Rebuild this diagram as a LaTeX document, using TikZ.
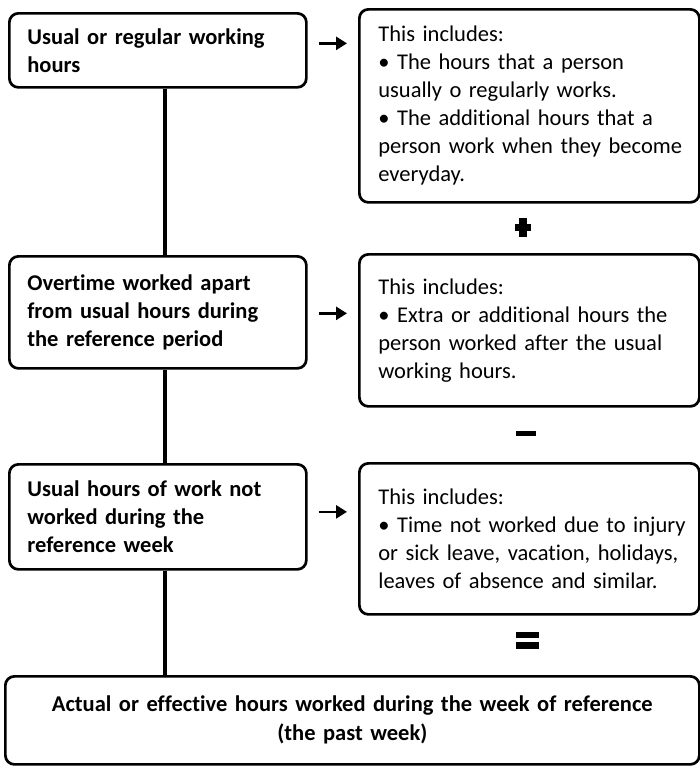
\documentclass[tikz,border=0pt]{standalone}
\usepackage{fontspec}
\setmainfont{Carlito}[WordSpace=0.72, RawFeature=-liga]
\usetikzlibrary{arrows.meta}
\newcommand\oneline[1]{\mbox{#1}}
\begin{document}
\begin{tikzpicture}[x=1pt,y=-1pt,
  box/.style={draw, line width=2.7pt, rounded corners=9pt, fill=white, anchor=north west,
    align=left, inner ysep=4pt, font=\fontsize{22.5}{28}\selectfont},
  leftbox/.style={box, font=\fontsize{22.5}{28}\selectfont\bfseries, text width=261pt, inner xsep=18pt, minimum width=297pt},
  rightbox/.style={box, text width=302pt, inner xsep=19pt, minimum width=340pt},
  bottombox/.style={box, font=\fontsize{22.5}{29}\selectfont\bfseries, align=center, text width=650pt, inner xsep=22pt, minimum width=694pt},
  arr/.style={line width=2.6pt, -{Triangle[length=11pt,width=13pt]}},
  spine/.style={line width=3.6pt}]
\useasboundingbox (0,0) rectangle (700,766);
\coordinate (sx) at (165,0);
% left boxes
\node[leftbox, minimum height=74pt] (L1) at (8,12) {Usual or regular working\\hours};
\node[leftbox, minimum height=112pt] (L2) at (8,255) {Overtime worked apart\\from usual hours during\\the reference period};
\node[leftbox, minimum height=105pt] (L3) at (8,463) {Usual hours of work not\\worked during the\\reference week};
% right boxes
\node[rightbox, minimum height=193pt] (R1) at (358,8) {\oneline{This includes:}\\\oneline{\textbullet{} The hours that a person}\\\oneline{usually o regularly works.}\\\oneline{\textbullet{} The additional hours that a}\\\oneline{person work when they become}\\\oneline{everyday.}};
\node[rightbox, minimum height=152pt] (R2) at (358,253) {\oneline{This includes:}\\\oneline{\textbullet{} Extra or additional hours the}\\\oneline{person worked after the usual}\\\oneline{working hours.}\\[10pt]};
\node[rightbox, minimum height=151pt] (R3) at (358,462) {\oneline{This includes:}\\\oneline{\textbullet{} Time not worked due to injury}\\\oneline{or sick leave, vacation, holidays,}\\\oneline{leaves of absence and similar.}\\[8pt]};
% bottom box
\node[bottombox, minimum height=88pt] (B) at (4,675) {Actual or effective hours worked during the week of reference\\(the past week)};
% spine
\draw[spine] (L1.south -| sx) -- (L2.north -| sx);
\draw[spine] (L2.south -| sx) -- (L3.north -| sx);
\draw[spine] (L3.south -| sx) -- (B.north -| sx);
% arrows
\draw[arr] ([xshift=11pt,yshift=7pt]L1.east) -- ([xshift=-11pt,yshift=7pt]L1.east -| R1.west);
\draw[arr] ([xshift=11pt,yshift=-1pt]L2.east) -- ([xshift=-11pt,yshift=-1pt]L2.east -| R2.west);
\draw[arr] ([xshift=11pt,yshift=5pt]L3.east) -- ([xshift=-11pt,yshift=5pt]L3.east -| R3.west);
% operators
\fill (515,223.5) rectangle (531,231);
\fill (519.3,218) rectangle (526.7,237);
\fill (516,430.5) rectangle (536,435.5);
\fill (515.5,631.5) rectangle (538.5,638);
\fill (515.5,641.5) rectangle (538.5,648.5);
\end{tikzpicture}
\end{document}
